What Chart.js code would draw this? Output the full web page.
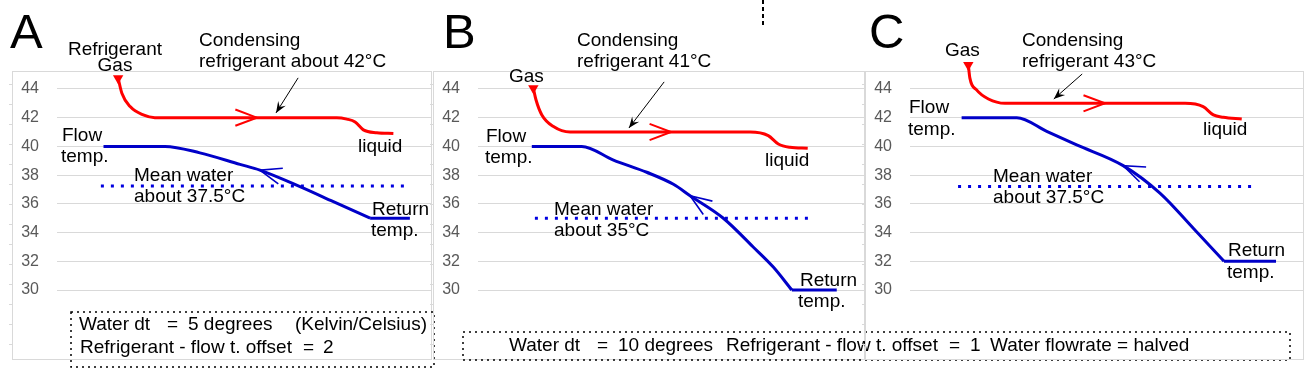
<!DOCTYPE html>
<html>
<head>
<meta charset="utf-8">
<title>Condensing refrigerant and water temperatures</title>
<script src="https://cdn.jsdelivr.net/npm/chart.js@4.4.1/dist/chart.umd.min.js"></script>
<style>
  body { margin: 0; background: #ffffff; }
  #wrap { position: relative; width: 1304px; height: 379px; overflow: hidden; }
  #wrap canvas { position: absolute; left: 0; top: 0; }
</style>
</head>
<body>
<div id="wrap">
  <canvas id="chartA" width="1304" height="379"></canvas>
  <canvas id="chartB" width="1304" height="379"></canvas>
  <canvas id="chartC" width="1304" height="379"></canvas>
</div>
<script>
// Eixo Y (temperatura em graus C)
var yTicks = [30, 32, 34, 36, 38, 40, 42, 44];

// Painel A - x = posicao ao longo do condensador (0..100)
var refXA = [16.3, 17.3, 19.5, 23.0, 26.1, 74.6, 77.3, 79.5, 81.7, 85.3, 89.7];
var refTA = [44.75, 43.7, 42.77, 42.19, 42.0, 42.0, 41.9, 41.7, 41.15, 40.95, 40.9];
var waterXA = [12.4, 28.8, 38.1, 48.8, 54.1, 64.8, 73.7, 83.5, 94.1];
var waterTA = [40.0, 40.0, 39.55, 38.75, 38.35, 37.2, 36.15, 35.0, 35.0];
var meanXA = [11.7, 92.8];
var meanTA = 37.25;

// Painel B
var refXB = [14.3, 15.0, 16.5, 19.5, 23.8, 70.3, 75.0, 77.6, 80.6, 85.2];
var refTB = [44.05, 43.23, 42.19, 41.38, 41.0, 41.0, 40.75, 40.17, 39.94, 39.87];
var waterXB = [13.9, 26.8, 35.0, 43.6, 50.5, 54.8, 63.4, 71.1, 76.3, 81.1, 92.7];
var waterTB = [40.0, 40.0, 39.05, 38.2, 37.36, 36.57, 35.0, 33.0, 31.6, 30.0, 30.0];
var meanXB = [14.7, 85.3];
var meanTB = 35.0;

// Painel C
var refXC = [14.8, 15.2, 16.9, 19.9, 24.1, 69.8, 74.4, 77.0, 79.5, 84.2];
var refTC = [45.67, 44.75, 43.93, 43.3, 43.0, 43.0, 42.77, 42.19, 42.03, 41.9];
var waterXC = [13.1, 27.1, 34.7, 42.3, 54.1, 63.5, 71.9, 79.7, 92.9];
var waterTC = [42.0, 42.0, 41.05, 40.1, 38.66, 36.73, 34.3, 32.0, 32.0];
var meanXC = [12.2, 86.8];
var meanTC = 37.2;

var FONT = '"Liberation Sans", Arial, sans-serif';
var RED = "#ff0000";
var BLUE = "#0000c8";
var FRAME_TOP = 71;

// Configuracao de cada painel (layout e anotacoes, fora dos dados)
var panels = [
  {
    canvas: "chartA", refX: refXA, refT: refTA, waterX: waterXA, waterT: waterTA, meanX: meanXA, meanT: meanTA,
    padLeft: 12, padRight: 872,
    redArrow: 53.3, blueArrow: 54.1,
    pointer: [[64.3, 44.77], [58.4, 42.33]],
    letter: ["A", 10],
    texts: [
      ["Refrigerant", 115, 55, "center"], ["Gas", 115, 71, "center"],
      ["Condensing", 199, 46], ["refrigerant about 42°C", 199, 67],
      ["Flow", 62, 141], ["temp.", 61, 162],
      ["liquid", 358, 152],
      ["Mean water", 134, 181], ["about 37.5°C", 134, 202],
      ["Return", 372, 215], ["temp.", 371, 236],
      ["Water dt", 79, 330], ["=", 167, 330], ["5 degrees", 188, 330], ["(Kelvin/Celsius)", 295, 330],
      ["Refrigerant - flow t. offset", 80, 353], ["=", 303, 353], ["2", 323, 353]
    ],
    box: [71, 312, 434, 367]
  },
  {
    canvas: "chartB", refX: refXB, refT: refTB, waterX: waterXB, waterT: waterTB, meanX: meanXB, meanT: meanTB,
    padLeft: 433, padRight: 439,
    redArrow: 49.9, blueArrow: 54.8,
    pointer: [[48.1, 44.49], [39.0, 41.28]],
    letter: ["B", 443],
    texts: [
      ["Gas", 509, 82],
      ["Condensing", 577, 46], ["refrigerant 41°C", 577, 67],
      ["Flow", 486, 142], ["temp.", 485, 163],
      ["liquid", 765, 166],
      ["Mean water", 554, 215], ["about 35°C", 554, 236],
      ["Return", 800, 286], ["temp.", 798, 307],
      ["Water dt", 509, 351], ["=", 597, 351], ["10 degrees", 618, 351],
      ["Refrigerant - flow t. offset", 726, 351], ["=", 949, 351], ["1", 970, 351],
      ["Water flowrate = halved", 990, 351]
    ],
    box: [463, 332, 1290, 360],
    stray: true
  },
  {
    canvas: "chartC", refX: refXC, refT: refTC, waterX: waterXC, waterT: waterTC, meanX: meanXC, meanT: meanTC,
    padLeft: 865, padRight: 0,
    redArrow: 49.5, blueArrow: 54.1,
    pointer: [[43.7, 45.04], [36.5, 43.30]],
    letter: ["C", 869],
    texts: [
      ["Gas", 945, 56],
      ["Condensing", 1022, 46], ["refrigerant 43°C", 1022, 67],
      ["Flow", 909, 113], ["temp.", 908, 135],
      ["liquid", 1203, 135],
      ["Mean water", 993, 182], ["about 37.5°C", 993, 203],
      ["Return", 1228, 256], ["temp.", 1227, 278]
    ],
    box: null
  }
];

// ponto (em pixels) sobre a serie numa posicao x, com a direcao do segmento
function pointOnSeries(chart, pts, xVal) {
  var xs = chart.scales.x, ys = chart.scales.y;
  for (var i = 0; i < pts.length - 1; i++) {
    if (xVal >= pts[i].x && xVal <= pts[i + 1].x) {
      var f = (xVal - pts[i].x) / (pts[i + 1].x - pts[i].x);
      var yVal = pts[i].y + f * (pts[i + 1].y - pts[i].y);
      return {
        x: xs.getPixelForValue(xVal),
        y: ys.getPixelForValue(yVal),
        dx: xs.getPixelForValue(pts[i + 1].x) - xs.getPixelForValue(pts[i].x),
        dy: ys.getPixelForValue(pts[i + 1].y) - ys.getPixelForValue(pts[i].y)
      };
    }
  }
  return null;
}

// seta aberta em "V" (angulo = direcao para onde aponta)
function drawChevron(ctx, x, y, angle, color, width) {
  var len = 23, half = 0.36;
  ctx.save();
  ctx.strokeStyle = color;
  ctx.lineWidth = width;
  ctx.beginPath();
  ctx.moveTo(x + len * Math.cos(angle + Math.PI - half), y + len * Math.sin(angle + Math.PI - half));
  ctx.lineTo(x, y);
  ctx.lineTo(x + len * Math.cos(angle + Math.PI + half), y + len * Math.sin(angle + Math.PI + half));
  ctx.stroke();
  ctx.restore();
}

function decorPlugin(p, refPts, waterPts) {
  return {
    id: "decor" + p.canvas,
    beforeDatasetsDraw: function(chart) {
      var ctx = chart.ctx, area = chart.chartArea;
      ctx.save();
      // moldura da area do grafico
      ctx.strokeStyle = "#d9d9d9";
      ctx.lineWidth = 1;
      ctx.strokeRect(p.padLeft + 0.5, FRAME_TOP + 0.5, area.right - p.padLeft - 1, area.bottom - FRAME_TOP);
      ctx.beginPath();
      for (var ty = 84; ty <= 344; ty += 20) {
        ctx.moveTo(p.padLeft - 3, ty + 0.5);
        ctx.lineTo(p.padLeft, ty + 0.5);
      }
      ctx.stroke();
      ctx.restore();
    },
    afterDraw: function(chart) {
      var ctx = chart.ctx;
      var xs = chart.scales.x, ys = chart.scales.y;
      ctx.save();

      // setas sobre as linhas
      var r = pointOnSeries(chart, refPts, p.redArrow);
      if (r) drawChevron(ctx, r.x, r.y, Math.atan2(r.dy, r.dx), RED, 2);
      var b = pointOnSeries(chart, waterPts, p.blueArrow);
      if (b) drawChevron(ctx, b.x, b.y, Math.atan2(-b.dy, -b.dx), BLUE, 1.6);

      // seta preta indicando a condensacao
      var x1 = xs.getPixelForValue(p.pointer[0][0]), y1 = ys.getPixelForValue(p.pointer[0][1]);
      var x2 = xs.getPixelForValue(p.pointer[1][0]), y2 = ys.getPixelForValue(p.pointer[1][1]);
      var ang = Math.atan2(y2 - y1, x2 - x1);
      ctx.strokeStyle = "#000000";
      ctx.fillStyle = "#000000";
      ctx.lineWidth = 1;
      ctx.beginPath();
      ctx.moveTo(x1, y1);
      ctx.lineTo(x2, y2);
      ctx.stroke();
      ctx.beginPath();
      ctx.moveTo(x2, y2);
      ctx.lineTo(x2 - 12 * Math.cos(ang - 0.38), y2 - 12 * Math.sin(ang - 0.38));
      ctx.lineTo(x2 - 7 * Math.cos(ang), y2 - 7 * Math.sin(ang));
      ctx.lineTo(x2 - 12 * Math.cos(ang + 0.38), y2 - 12 * Math.sin(ang + 0.38));
      ctx.closePath();
      ctx.fill();

      // textos
      ctx.fillStyle = "#000000";
      ctx.textBaseline = "alphabetic";
      ctx.font = "49px " + FONT;
      ctx.textAlign = "left";
      ctx.fillText(p.letter[0], p.letter[1], 48);
      ctx.font = "19px " + FONT;
      p.texts.forEach(function(t) {
        ctx.textAlign = t[3] || "left";
        ctx.fillText(t[0], t[1], t[2]);
      });

      // caixa pontilhada com os parametros
      ctx.strokeStyle = "#000000";
      ctx.lineWidth = 1.5;
      ctx.setLineDash([2, 4]);
      if (p.box) {
        ctx.strokeRect(p.box[0], p.box[1], p.box[2] - p.box[0], p.box[3] - p.box[1]);
      }
      if (p.stray) {
        ctx.lineWidth = 2;
        ctx.setLineDash([4, 3]);
        ctx.beginPath();
        ctx.moveTo(763, 0);
        ctx.lineTo(763, 27);
        ctx.stroke();
      }
      ctx.restore();
    }
  };
}

document.addEventListener("DOMContentLoaded", function() {
  panels.forEach(function(p) {
    var refPts = p.refX.map(function(x, i) { return { x: x, y: p.refT[i] }; });
    var waterPts = p.waterX.map(function(x, i) { return { x: x, y: p.waterT[i] }; });
    var meanPts = p.meanX.map(function(x) { return { x: x, y: p.meanT }; });
    // parte curva (ate o retorno) e trecho reto final do retorno
    var waterCurve = waterPts.slice(0, waterPts.length - 1);
    var waterTail = waterPts.slice(waterPts.length - 2);

    new Chart(document.getElementById(p.canvas).getContext("2d"), {
      type: "line",
      data: {
        datasets: [
          {
            label: "Refrigerant",
            data: refPts,
            borderColor: RED,
            borderWidth: 3,
            cubicInterpolationMode: "monotone",
            pointRadius: refPts.map(function(v, i) { return i === 0 ? 6 : 0; }),
            pointStyle: "triangle",
            pointRotation: 180,
            pointBackgroundColor: RED,
            pointBorderColor: RED,
            pointBorderWidth: 0,
            clip: false
          },
          {
            label: "Water",
            data: waterCurve,
            borderColor: BLUE,
            borderWidth: 3,
            cubicInterpolationMode: "monotone",
            pointRadius: 0,
            clip: false
          },
          {
            label: "Water return",
            data: waterTail,
            borderColor: BLUE,
            borderWidth: 3,
            pointRadius: 0,
            clip: false
          },
          {
            label: "Mean water",
            data: meanPts,
            borderColor: "#0000e0",
            borderWidth: 3,
            borderDash: [3, 7],
            pointRadius: 0,
            clip: false
          }
        ]
      },
      options: {
        responsive: false,
        animation: false,
        // area do grafico comeca acima da moldura (y=71) para caber a entrada do gas
        layout: { autoPadding: false, padding: { left: p.padLeft, right: p.padRight, top: 50, bottom: 20 } },
        plugins: { legend: { display: false }, tooltip: { enabled: false } },
        scales: {
          x: { type: "linear", min: 0, max: 100, display: false },
          y: {
            min: 25.2,
            max: 46.71,
            afterBuildTicks: function(scale) {
              scale.ticks = yTicks.map(function(v) { return { value: v }; });
            },
            afterFit: function(scale) { scale.width = 45; },
            border: { display: false },
            // marca de tick invisivel: afasta o rotulo sem somar padding vertical
            grid: { color: "#d9d9d9", drawTicks: true, tickLength: 18, tickColor: "rgba(0,0,0,0)" },
            ticks: { color: "#595959", padding: 0, font: { family: FONT, size: 16 } }
          }
        }
      },
      plugins: [decorPlugin(p, refPts, waterPts)]
    });
  });
});
</script>
</body>
</html>
